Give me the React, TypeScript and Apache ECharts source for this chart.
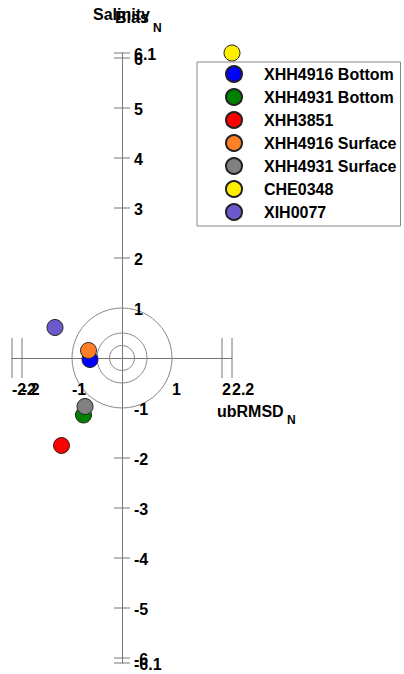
import React, { useEffect, useRef } from "react";
import * as echarts from "echarts";

const seriesNames = [
  "XHH4916 Bottom",
  "XHH4931 Bottom",
  "XHH3851",
  "XHH4916 Surface",
  "XHH4931 Surface",
  "CHE0348",
  "XIH0077",
];
const seriesColors = ["#0000ff", "#008000", "#ff0000", "#ff7f27", "#808080", "#ffee00", "#6a5acd"];
// [ubRMSD_N, Bias_N]
const seriesPoints: number[][] = [
  [-0.64, -0.03],
  [-0.77, -1.14],
  [-1.21, -1.75],
  [-0.67, 0.15],
  [-0.74, -0.97],
  [2.2, 6.1],
  [-1.34, 0.61],
];

const xLabels = [-2.2, -2, -1, 1, 2, 2.2];
const yLabels = [6.1, 6, 5, 4, 3, 2, 1, -1, -2, -3, -4, -5, -6, -6.1];
const xTicks = [-2.2, -2, 2, 2.2];
const yTicks = [6.1, 6, 5, 4, 3, 2, -2, -3, -4, -5, -6, -6.1];
const circleRadii = [0.25, 0.5, 1];

const FONT = "'Liberation Sans', Arial, sans-serif";

export default function App() {
  const ref = useRef<HTMLDivElement>(null);
  useEffect(() => {
    if (!ref.current) return;
    const chart = echarts.init(ref.current, null, { renderer: "svg" });
    const labelStyle = { fontFamily: FONT, fontWeight: "bold", fontSize: 16, color: "#000" };
    const textFont = "bold 16px " + FONT;
    const option: any = {
      animation: false,
      backgroundColor: "#fff",
      title: [
        { text: "Salinity", left: 93, top: 6, padding: 0, textStyle: { ...labelStyle } },
        { text: "Bias", left: 115, top: 9, padding: 0, textStyle: { ...labelStyle } },
        { text: "N", left: 153, top: 22, padding: 0, textStyle: { ...labelStyle, fontSize: 12 } },
        { text: "ubRMSD", left: 217, top: 403, padding: 0, textStyle: { ...labelStyle } },
        { text: "N", left: 287, top: 414, padding: 0, textStyle: { ...labelStyle, fontSize: 12 } },
      ],
      legend: {
        orient: "vertical",
        left: 197,
        top: 62,
        width: 205,
        padding: [3, 4, 5, 28],
        itemGap: 5,
        itemWidth: 16,
        itemHeight: 16,
        icon: "circle",
        borderColor: "#888",
        borderWidth: 1,
        data: seriesNames,
        textStyle: { ...labelStyle, padding: [0, 0, 0, 17], lineHeight: 16 },
      },
      grid: {
        left: 12,
        top: 53,
        width: 220,
        height: 610,
        containLabel: false,
        outerBoundsMode: "none",
      },
      xAxis: {
        type: "value",
        min: -2.2,
        max: 2.2,
        splitLine: { show: false },
        axisTick: { show: false },
        axisLabel: { show: false },
        axisLine: { show: true, onZero: true, lineStyle: { color: "#777", width: 1 } },
      },
      yAxis: {
        type: "value",
        min: -6.1,
        max: 6.1,
        splitLine: { show: false },
        axisTick: { show: false },
        axisLabel: { show: false },
        axisLine: { show: true, onZero: true, lineStyle: { color: "#777", width: 1 } },
      },
      series: [
        {
          type: "custom",
          name: "target",
          clip: false,
          silent: true,
          z: 1,
          data: [[0, 0]],
          renderItem: (params: any, api: any) => {
            const c = api.coord([0, 0]);
            const children: any[] = [];
            circleRadii.forEach((r) => {
              const p = api.coord([r, 0]);
              children.push({
                type: "circle",
                shape: { cx: c[0], cy: c[1], r: p[0] - c[0] },
                style: { fill: "none", stroke: "#888", lineWidth: 1 },
              });
            });
            xTicks.forEach((v) => {
              const p = api.coord([v, 0]);
              children.push({
                type: "line",
                shape: { x1: p[0], y1: p[1] - 20, x2: p[0], y2: p[1] + 20 },
                style: { stroke: "#777", lineWidth: 1 },
              });
            });
            yTicks.forEach((v) => {
              const p = api.coord([0, v]);
              children.push({
                type: "line",
                shape: { x1: p[0] - 8, y1: p[1], x2: p[0] + 8, y2: p[1] },
                style: { stroke: "#777", lineWidth: 1 },
              });
            });
            xLabels.forEach((v) => {
              const p = api.coord([v, 0]);
              children.push({
                type: "text",
                x: p[0],
                y: p[1] + 23,
                style: { text: String(v), font: textFont, fill: "#000", align: "left", verticalAlign: "top" },
              });
            });
            yLabels.forEach((v) => {
              const p = api.coord([0, v]);
              children.push({
                type: "text",
                x: p[0] + 12,
                y: p[1] + 1,
                style: { text: String(v), font: textFont, fill: "#000", align: "left", verticalAlign: "middle" },
              });
            });
            return { type: "group", children };
          },
        },
        ...seriesNames.map((name, i) => ({
          type: "scatter",
          name,
          data: [seriesPoints[i]],
          symbol: "circle",
          symbolSize: 16,
          clip: false,
          z: 3,
          itemStyle: { color: seriesColors[i], borderColor: "#222", borderWidth: 1, opacity: 1 },
        })),
      ],
    };
    chart.setOption(option);
    return () => chart.dispose();
  }, []);
  return (
    <div
      ref={ref}
      style={{ position: "fixed", left: 0, top: 0, width: 404, height: 674 }}
    />
  );
}
